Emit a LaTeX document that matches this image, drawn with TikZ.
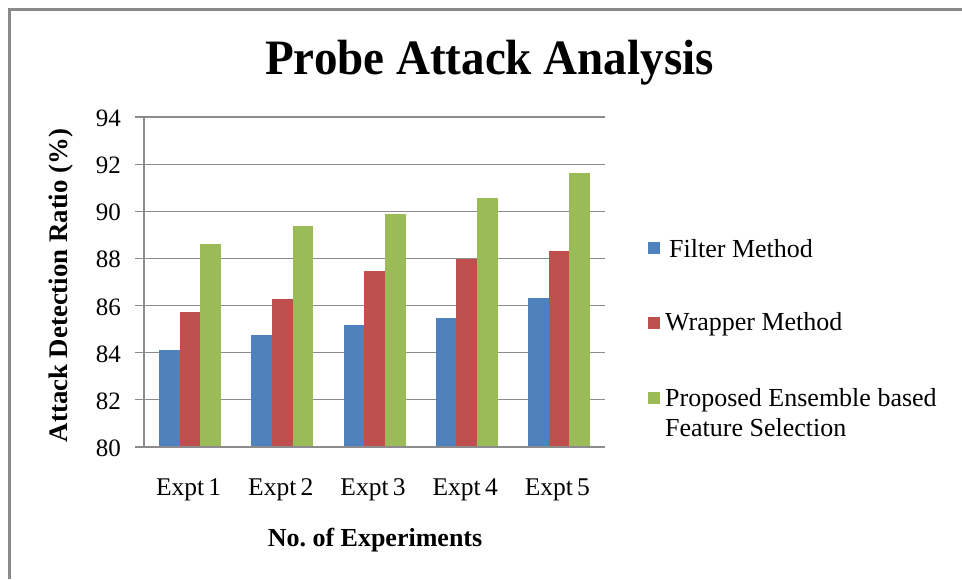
\documentclass[tikz,border=0pt]{standalone}
\usepackage{fontspec}
\setmainfont{Liberation Serif}
\frenchspacing
\definecolor{framegray}{HTML}{8A8A8A}
\definecolor{gridgray}{HTML}{8C8C8C}
\definecolor{bluebar}{HTML}{4F81BD}
\definecolor{redbar}{HTML}{C0504D}
\definecolor{greenbar}{HTML}{9BBB59}
\tikzset{
  gridline/.style={draw=gridgray, line width=1.2pt},
  titletext/.style={font=\fontsize{49.5}{56}\selectfont\bfseries, anchor=base, inner sep=0pt, xscale=0.95},
  ticktext/.style={font=\fontsize{25}{30}\selectfont, anchor=base east, inner sep=0pt},
  cattext/.style={font=\fontsize{25.5}{30}\selectfont, anchor=base, inner sep=0pt},
  axtitle/.style={font=\fontsize{26}{30}\selectfont\bfseries, anchor=base, inner sep=0pt},
  legtext/.style={font=\fontsize{26}{30}\selectfont, anchor=base west, inner sep=0pt, align=left},
  legkey/.style={minimum size=12pt, inner sep=0pt, anchor=north west},
}
\begin{document}
\begin{tikzpicture}[x=1pt,y=-1pt]
\useasboundingbox (0,0) rectangle (962,579);
\fill[white] (0,0) rectangle (962,579);
\draw[framegray, line width=3pt] (9.5,579) -- (9.5,9.5) -- (962,9.5);
% title
\node[titletext] (title) at (489.5,74) {Probe Attack Analysis};
% grid and ticks
\foreach \v [count=\k] in {80,82,...,94} {
  \pgfmathsetmacro{\yy}{447-(\v-80)*23.571}
  \coordinate (gl\k) at (135,\yy);
  \coordinate (gr\k) at (605,\yy);
  \draw[gridline] (gl\k) -- (gr\k);
  \node[ticktext] (tick\k) at (121,\yy+9.5) {\v};
}
\coordinate (axtop) at (144,117);
\coordinate (axbot) at (144,447);
\draw[gridline] (axtop) -- (axbot);
% bars
\foreach \b/\r/\g [count=\i] in {84.12/85.74/88.61, 84.75/86.28/89.38, 85.19/87.48/89.87, 85.46/87.99/90.58, 86.34/88.33/91.61} {
  \pgfmathsetmacro{\cx}{144+92.2*(\i-0.5)}
  \pgfmathsetmacro{\yb}{447-(\b-80)*23.571}
  \pgfmathsetmacro{\yr}{447-(\r-80)*23.571}
  \pgfmathsetmacro{\yg}{447-(\g-80)*23.571}
  \fill[bluebar] (\cx-31,446.4) rectangle (\cx-10.33,\yb);
  \fill[redbar] (\cx-10.33,446.4) rectangle (\cx+10.33,\yr);
  \fill[greenbar] (\cx+10.33,446.4) rectangle (\cx+31,\yg);
  \node[cattext] (cat\i) at (\cx-1.5,495) {Expt\,\i};
}
% axis titles
\node[axtitle] (xtitle) at (375,546) {No. of Experiments};
\node[axtitle, rotate=90, font=\fontsize{26.8}{30}\selectfont\bfseries] (ytitle) at (67,285.5) {Attack Detection Ratio (\%)};
% legend
\node[legkey, fill=bluebar] (k1) at (648,242) {};
\node[legtext] (l1) at (669,257) {Filter Method};
\node[legkey, fill=redbar] (k2) at (648,316.5) {};
\node[legtext] (l2) at (665,330.5) {Wrapper Method};
\node[legkey, fill=greenbar] (k3) at (648,391.5) {};
\node[legtext] (l3) at (665,406) {Proposed Ensemble based};
\node[legtext] (l4) at (665,436) {Feature Selection};
\end{tikzpicture}
\end{document}
